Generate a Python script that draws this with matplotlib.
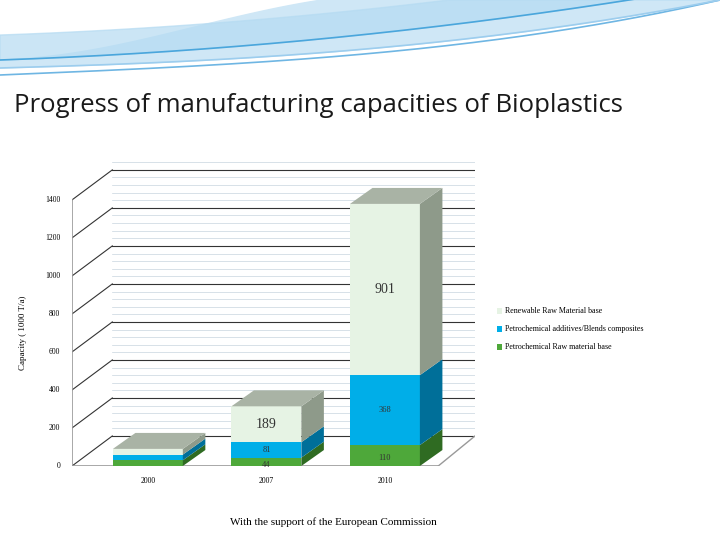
import matplotlib
matplotlib.use("Agg")
import matplotlib.pyplot as plt
from matplotlib.patches import Polygon
import numpy as np

years = ["2000", "2007", "2010"]
petro_raw = [30, 44, 110]
petro_add = [30, 81, 368]
renewable = [30, 189, 901]
series_names = ["Renewable Raw Material base", "Petrochemical additives/Blends composites",
                "Petrochemical Raw material base"]
yticks = [0, 200, 400, 600, 800, 1000, 1200, 1400]

front = {"raw": "#4ea83a", "add": "#00aee8", "ren": "#e6f3e4"}
side = {"raw": "#2f6b22", "add": "#006f99", "ren": "#8e9a8a"}
topc = {"raw": "#3e8a2e", "add": "#0090c0", "ren": "#a9b3a5"}

fig = plt.figure(figsize=(7.2, 5.4), dpi=100)
# decorative top waves (y in pixels from top, inverted axis)
deco = fig.add_axes([0, 0.85, 1, 0.15])
deco.set_xlim(0, 720); deco.set_ylim(81, 0); deco.axis("off")
t = np.linspace(0, 720, 300)
s = t / 720
c1 = 75 - 30 * s - 45 * s**3
c2 = 68 - 20 * s - 48 * s**2.5
c3 = 60 - 25 * s - 50 * s**2
deco.fill_between(t, c2, np.maximum(c3 - 40 * np.sin(np.pi * s)**2, 0), color="#cfe7f6")
deco.fill_between(t, c3, np.maximum(c3 - 25, 0), color="#b5dbf2", alpha=0.7)
for c, col in [(c1, "#6fb6e3"), (c2, "#9ccdee"), (c3, "#4aa6dc")]:
    deco.plot(t, c, color=col, lw=1.2)

fig.text(0.02, 0.805, "Progress of manufacturing capacities of Bioplastics", fontsize=18.5,
         color="#1a1a1a", family="Open Sans", va="center")
fig.text(0.463, 0.033, "With the support of the European Commission", fontsize=8,
         family="Liberation Serif", ha="center", va="center")

ax = fig.add_axes([72 / 720, (540 - 466) / 540, (475 - 72) / 720, (466 - 160) / 540])
ax.set_xlim(-0.64, 2.76)
ax.set_ylim(0, 1610)
ax.axis("off")

ddx, ddy = 0.34, 158  # back wall offset
bdx, bdy = 0.19, 84   # bar depth
for v in range(0, 1441, 40):
    major = v % 200 == 0
    ax.plot([-0.64 + ddx, 2.76], [v + ddy] * 2, color="#333333" if major else "#c8d4de",
            lw=0.8 if major else 0.5, zorder=1)
    if major:
        ax.plot([-0.64, -0.64 + ddx], [v, v + ddy], color="#333333", lw=0.8, zorder=1)
ax.plot([-0.64, -0.64], [0, 1400], color="#999999", lw=1.2)
ax.plot([-0.64, 2.45], [0, 0], color="#999999", lw=1.2)
ax.plot([2.45, 2.76], [0, ddy], color="#999999", lw=1.0)
for v in yticks:
    ax.text(-0.74, v, str(v), ha="right", va="center", fontsize=5.5, family="Liberation Serif")
ax.text(-1.05, 700, "Capacity ( 1000 T/a)", rotation=90, ha="center", va="center",
        fontsize=6.5, family="Liberation Serif")

w = 0.59
for i, y in enumerate(years):
    bottom = 0
    for key, vals in [("raw", petro_raw), ("add", petro_add), ("ren", renewable)]:
        v = vals[i]
        x0, x1 = i - w / 2, i + w / 2
        ax.add_patch(Polygon([(x0, bottom), (x1, bottom), (x1, bottom + v), (x0, bottom + v)],
                             facecolor=front[key], edgecolor="none", zorder=5))
        ax.add_patch(Polygon([(x1, bottom), (x1 + bdx, bottom + bdy), (x1 + bdx, bottom + v + bdy),
                              (x1, bottom + v)], facecolor=side[key], edgecolor="none", zorder=5))
        bottom += v
    ax.add_patch(Polygon([(x0, bottom), (x1, bottom), (x1 + bdx, bottom + bdy), (x0 + bdx, bottom + bdy)],
                         facecolor=topc["ren"], edgecolor="none", zorder=5))
    ax.text(i, -60, y, ha="center", va="top", fontsize=5.5, family="Liberation Serif")
    if i > 0:
        b = 0
        for vals, fs in [(petro_raw, 6), (petro_add, 6), (renewable, 10)]:
            ax.text(i, b + vals[i] / 2 - (15 if vals is petro_raw else 0), str(vals[i]), ha="center",
                    va="center", fontsize=fs, family="Liberation Serif", color="#333333", zorder=6)
            b += vals[i]

for j, (name, key) in enumerate(zip(series_names, ["ren", "add", "raw"])):
    yy = 1 - (311 + 18 * j) / 540
    fig.patches.append(Polygon([(497 / 720, yy - 0.005), (502 / 720, yy - 0.005), (502 / 720, yy + 0.005),
                                (497 / 720, yy + 0.005)], closed=True, transform=fig.transFigure,
                               facecolor=front[key], edgecolor="none"))
    fig.text(505 / 720, yy, name, fontsize=5.8, family="Liberation Serif", va="center")

fig.savefig("out.png", dpi=100, facecolor="white")
